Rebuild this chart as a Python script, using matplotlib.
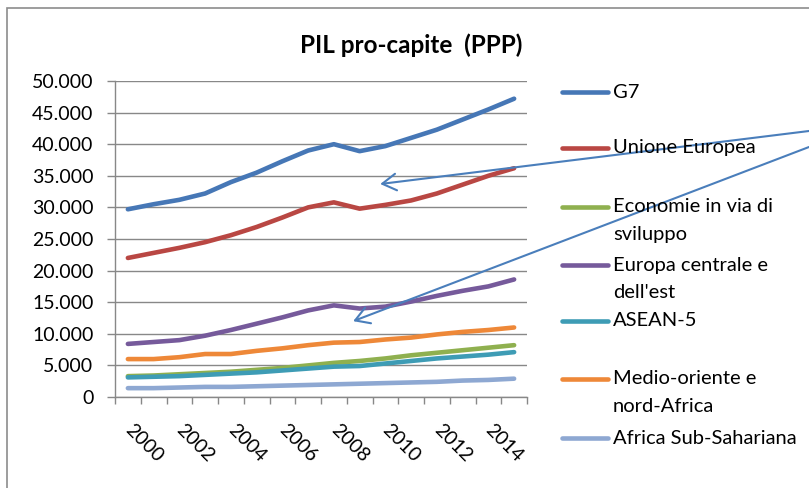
import numpy as np
import matplotlib
matplotlib.use('Agg')
import matplotlib.pyplot as plt
from matplotlib.lines import Line2D
from matplotlib.patches import Rectangle

plt.rcParams['font.family'] = ['Lato', 'DejaVu Sans']

# Dati (PIL pro-capite PPP)
anni = np.arange(2000, 2016)
g7 = [29700, 30500, 31200, 32200, 34000, 35500, 37300, 39000, 40000, 38900,
      39700, 41000, 42300, 43900, 45500, 47200]
ue = [22000, 22800, 23600, 24500, 25600, 26900, 28400, 30000, 30800, 29800,
      30400, 31100, 32200, 33600, 35000, 36200]
economie_sviluppo = [3300, 3400, 3600, 3800, 4000, 4300, 4600, 5000, 5400, 5700,
                     6100, 6600, 7000, 7400, 7800, 8200]
europa_est = [8400, 8700, 9000, 9700, 10600, 11600, 12600, 13700, 14500, 14000,
              14300, 15100, 16000, 16800, 17500, 18600]
asean5 = [3100, 3200, 3300, 3500, 3700, 3900, 4200, 4500, 4800, 4900,
          5300, 5700, 6100, 6400, 6700, 7100]
medio_oriente = [6000, 6000, 6300, 6800, 6800, 7300, 7700, 8200, 8600, 8700,
                 9100, 9400, 9900, 10300, 10600, 11000]
africa_ss = [1400, 1400, 1500, 1600, 1600, 1700, 1800, 1900, 2000, 2100,
             2200, 2300, 2400, 2600, 2700, 2900]

serie = [g7, ue, economie_sviluppo, europa_est, asean5, medio_oriente, africa_ss]
etichette = ['G7', 'Unione Europea', 'Economie in via di\nsviluppo',
             "Europa centrale e\ndell'est", 'ASEAN-5', 'Medio-oriente e\nnord-Africa',
             'Africa Sub-Sahariana']
colori = ['#4677B6', '#B94743', '#8FB04F', '#765A9B', '#3E9CB5', '#EE8838', '#8EA8D2']

anni_etichette = np.arange(2000, 2015, 2)
y_ticks = np.arange(0, 50001, 5000)

# frecce (punta in coordinate dati, coda in pixel figura)
frecce_punta = [(2009.8, 33700), (2008.75, 12000)]
frecce_coda = [(809, 357), (809, 341)]

W, H = 809, 488
fig = plt.figure(figsize=(W / 100, H / 100), dpi=100)
ax = fig.add_axes([115 / W, 91 / H, 412 / W, 316 / H])

for valori, col, lab in zip(serie, colori, etichette):
    ax.plot(anni, valori, color=col, lw=3.3, solid_capstyle='round', label=lab)

ax.set_xlim(1999.5, 2015.5)
ax.set_ylim(0, 50000)
ax.set_yticks(y_ticks)
ax.set_yticklabels([f'{v:,.0f}'.replace(',', '.') for v in y_ticks])
ax.set_xticks(anni_etichette)
ax.set_xticklabels([str(a) for a in anni_etichette])
ax.set_xticks(np.arange(1999.5, 2016, 1), minor=True)
ax.tick_params(axis='x', which='major', length=0, pad=22, labelsize=14)
ax.tick_params(axis='x', which='minor', length=5, width=1, color='#888888', direction='out')
ax.tick_params(axis='y', length=5.5, width=1, color='#888888', pad=10, labelsize=14)
plt.setp(ax.get_xticklabels(), rotation=-45, ha='left', va='center', rotation_mode='anchor')

ax.grid(True, axis='y', color='#888888', lw=1)
ax.set_axisbelow(True)
for s in ['top', 'right']:
    ax.spines[s].set_visible(False)
for s in ['left', 'bottom']:
    ax.spines[s].set_color('#888888')
    ax.spines[s].set_linewidth(1)

fig.text(411 / W, 1 - 45 / H, 'PIL pro-capite  (PPP)', ha='center', va='center',
         fontsize=17.5, fontweight='bold')

# Legenda disegnata a mano (spaziatura irregolare come in Excel)
leg_y = [92, 148, 207, 265, 321, 379, 438]
for yy, col, lab in zip(leg_y, colori, etichette):
    fig.add_artist(Line2D([562 / W, 608 / W], [1 - yy / H, 1 - yy / H], color=col, lw=3.3,
                          solid_capstyle='round', transform=fig.transFigure))
    for k, riga in enumerate(lab.split('\n')):
        fig.text(613 / W, 1 - (yy + 27 * k) / H, riga, ha='left', va='center', fontsize=14.5)

for punta, coda in zip(frecce_punta, frecce_coda):
    ax.annotate('', xy=punta, xycoords='data', xytext=coda, textcoords='figure pixels',
                arrowprops=dict(arrowstyle='->,head_length=0.5,head_width=0.3',
                                mutation_scale=20, color='#4A7EBB', lw=1.5,
                                shrinkA=0, shrinkB=0),
                annotation_clip=False)

# bordo dell'area grafico
fig.add_artist(Rectangle((7 / W, -0.1), 1.2, 1.1 - 8 / H, transform=fig.transFigure,
                         fill=False, edgecolor='#8C8C8C', lw=1.2))

fig.savefig('out.png', dpi=100)
